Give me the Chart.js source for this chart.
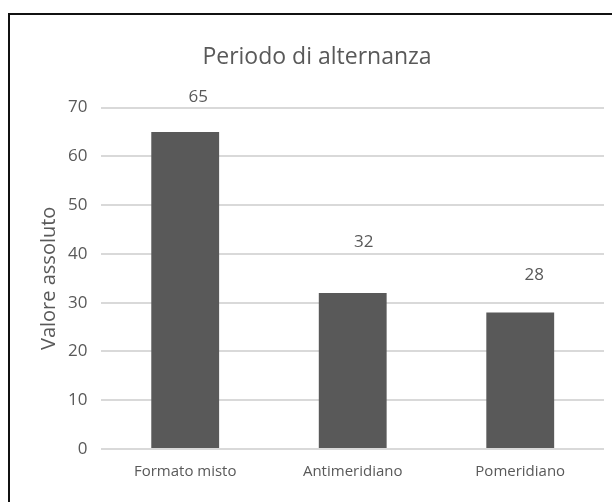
<!DOCTYPE html>
<html>
<head>
<meta charset="utf-8">
<script src="https://cdn.jsdelivr.net/npm/chart.js@4"></script>
<style>
    html, body { margin: 0; padding: 0; background: #fff; }
    #wrap { position: relative; width: 612px; height: 502px; overflow: hidden; }
    #frame {
        position: absolute; left: 8px; top: 13px; width: 620px; height: 520px;
        border: 2px solid #111; box-sizing: border-box;
    }
    canvas { position: absolute; left: 0; top: 0; }
</style>
</head>
<body>
<div id="wrap">
    <div id="frame"></div>
    <canvas id="chart" width="612" height="502"></canvas>
</div>
<script>
// ========================================
// Data
// ========================================

const categories = ['Formato misto', 'Antimeridiano', 'Pomeridiano'];
const values = [65, 32, 28];
const yTicks = [0, 10, 20, 30, 40, 50, 60, 70];

const textGray = '#595959';
const barGray = '#595959';
const fontFamily = "'Open Sans', 'Liberation Sans', sans-serif";

// the value labels were moved by hand in the original, so each has its own shift
const labelShift = [[13, -35], [11, -51], [14, -37]];

const valueLabels = {
    id: 'valueLabels',
    afterDatasetsDraw(chart) {
        const ctx = chart.ctx;
        const meta = chart.getDatasetMeta(0);
        ctx.save();
        ctx.fillStyle = textGray;
        ctx.font = '17px ' + fontFamily;
        ctx.textAlign = 'center';
        ctx.textBaseline = 'middle';
        meta.data.forEach((bar, i) => {
            ctx.fillText(String(values[i]), bar.x + labelShift[i][0], bar.y + labelShift[i][1]);
        });
        ctx.restore();
    }
};

new Chart(document.getElementById('chart'), {
    type: 'bar',
    data: {
        labels: categories,
        datasets: [{
            data: values,
            backgroundColor: barGray,
            borderWidth: 0,
            barPercentage: 0.405,
            categoryPercentage: 1
        }]
    },
    options: {
        responsive: false,
        animation: false,
        layout: { padding: { left: 30, right: 8, top: 44, bottom: 15 } },
        plugins: {
            legend: { display: false },
            tooltip: { enabled: false },
            title: {
                display: true,
                text: 'Periodo di alternanza',
                color: textGray,
                font: { family: fontFamily, size: 23, weight: 'normal' },
                padding: { top: 0, bottom: 36 }
            }
        },
        scales: {
            x: {
                grid: { display: false },
                border: { display: false },
                ticks: { color: textGray, font: { family: fontFamily, size: 15 }, padding: 6 }
            },
            y: {
                min: 0,
                max: 70,
                afterBuildTicks: axis => { axis.ticks = yTicks.map(v => ({ value: v })); },
                grid: { color: '#d9d9d9', lineWidth: 2, drawTicks: false },
                border: { display: false },
                ticks: { color: textGray, font: { family: fontFamily, size: 17 }, padding: 14 },
                title: {
                    display: true,
                    text: 'Valore assoluto',
                    color: textGray,
                    font: { family: fontFamily, size: 20 },
                    padding: { top: 7, bottom: -7 }
                }
            }
        }
    },
    plugins: [valueLabels]
});
</script>
</body>
</html>
